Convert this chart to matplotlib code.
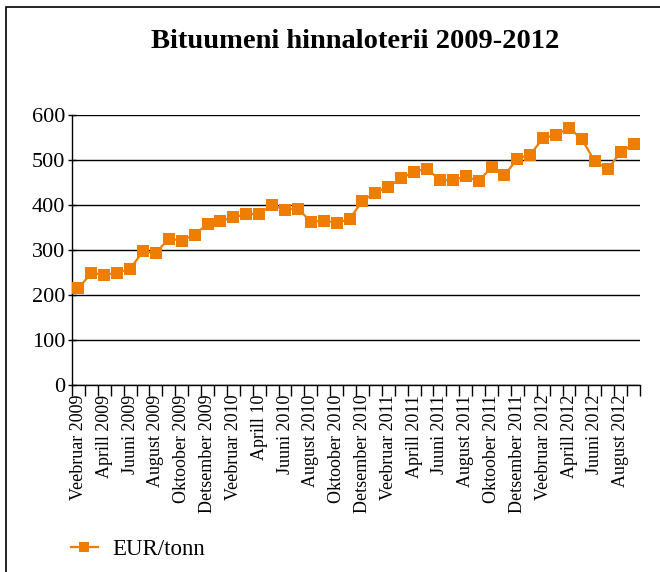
import numpy as np
import matplotlib
matplotlib.use("Agg")
import matplotlib.pyplot as plt
from matplotlib.patches import Rectangle

# months Feb 2009 .. Sep 2012, every second one labelled
tick_labels = ["Veebruar 2009", "Aprill 2009", "Juuni 2009", "August 2009",
               "Oktoober 2009", "Detsember 2009", "Veebruar 2010", "Aprill 10",
               "Juuni 2010", "August 2010", "Oktoober 2010", "Detsember 2010",
               "Veebruar 2011", "Aprill 2011", "Juuni 2011", "August 2011",
               "Oktoober 2011", "Detsember 2011", "Veebruar 2012", "Aprill 2012",
               "Juuni 2012", "August 2012"]

eur_tonn = [215, 249, 245, 249, 258, 297, 294, 325, 321, 334,
            358, 364, 373, 379, 381, 399, 390, 392, 363, 365,
            361, 368, 410, 427, 441, 459, 474, 481, 455, 455,
            464, 453, 484, 466, 503, 512, 549, 555, 572, 546,
            497, 480, 517, 535]

orange = "#EE7D00"
plt.rcParams['font.family'] = ['Liberation Serif', 'DejaVu Serif']

fig = plt.figure(figsize=(6.6, 5.72), dpi=100)
ax = fig.add_axes([72 / 660, 1 - 385 / 572, 568 / 660, 270 / 572])

x = np.arange(len(eur_tonn))
ax.plot(x, eur_tonn, color=orange, lw=1.6, marker='s', markersize=8.3,
        markeredgewidth=0, label="EUR/tonn", zorder=3)

ax.set_xlim(-0.5, len(eur_tonn) - 0.5)
ax.set_ylim(0, 600)
ax.set_yticks(range(0, 601, 100))
ax.yaxis.grid(True, color='black', lw=1)
ax.set_axisbelow(True)
ax.tick_params(axis='y', labelsize=16, length=6, width=1, direction='inout', pad=2)

ax.set_xticks(x[::2])
ax.set_xticklabels(tick_labels, rotation=90, fontsize=13)
ax.set_xticks(np.arange(-0.5, len(eur_tonn)), minor=True)
ax.tick_params(axis='x', which='major', length=0, pad=7)
ax.tick_params(axis='x', which='minor', length=8, width=1, direction='out')

for s in ['top', 'right']:
    ax.spines[s].set_visible(False)
ax.spines['left'].set_linewidth(1)
ax.spines['bottom'].set_linewidth(1)

fig.text(355 / 660, 1 - 42 / 572, "Bituumeni hinnaloterii 2009-2012",
         ha='center', va='center', fontsize=20.5, fontweight='bold')

fig.legend(loc='center left', bbox_to_anchor=(50 / 660, 1 - 549 / 572),
           frameon=False, fontsize=16.5, handlelength=1.2, handletextpad=0.6,
           markerscale=0.85)

# chart area border (cropped on right and bottom)
fig.patches.append(Rectangle((6 / 660, -0.1), 1.2, 1 - 7 / 572 + 0.1,
                             transform=fig.transFigure, fill=False,
                             edgecolor='black', lw=1.2))

fig.savefig("out.png", dpi=100)
